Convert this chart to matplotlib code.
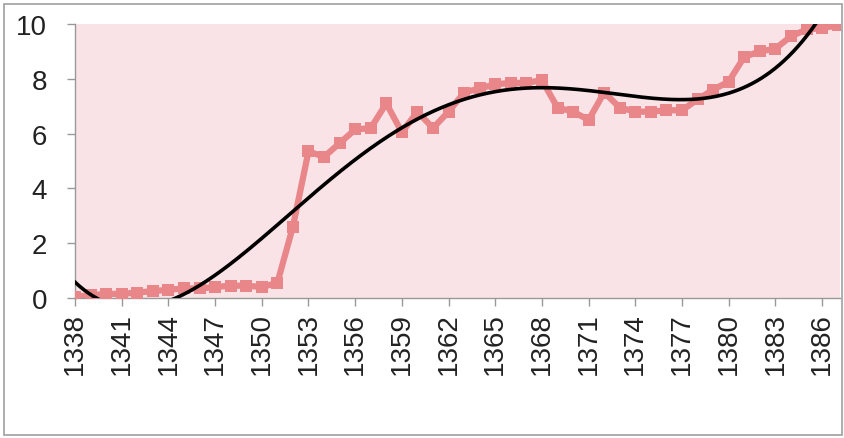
import numpy as np
import matplotlib
matplotlib.use("Agg")
import matplotlib.pyplot as plt
from matplotlib.patches import Rectangle

years = list(range(1338, 1388))
values = [0.05, 0.1, 0.15, 0.15, 0.2, 0.25, 0.3, 0.35, 0.35, 0.4, 0.45, 0.45, 0.4, 0.55,
          2.6, 5.35, 5.15, 5.65, 6.15, 6.2, 7.1, 6.05, 6.8, 6.2, 6.8, 7.5, 7.65, 7.8,
          7.85, 7.85, 7.95, 6.95, 6.8, 6.5, 7.5, 6.95, 6.8, 6.8, 6.85, 6.85, 7.25, 7.6,
          7.9, 8.8, 9.0, 9.1, 9.55, 9.8, 9.85, 9.95]
tick_years = list(range(1338, 1387, 3))
y_ticks = [0, 2, 4, 6, 8, 10]
trend_order = 4

plt.rcParams['font.family'] = ['Liberation Sans', 'DejaVu Sans']

fig = plt.figure(figsize=(8.45, 4.39), dpi=100)
fig.patch.set_facecolor('white')
fig.patches.append(Rectangle((4/845, 3/439), 838/845, 431/439, transform=fig.transFigure,
                             fill=False, edgecolor='#a0a0a0', linewidth=1.2))

ax = fig.add_axes([75/845, 1-299/439, (840-75)/845, (299-25)/439])
ax.set_facecolor('#f9e3e6')

x = np.array(years, dtype=float)
y = np.array(values)
ax.plot(x, y, color='#e8868a', linewidth=4.5, marker='s', markersize=8.5,
        markeredgewidth=0, zorder=3, solid_joinstyle='miter')

xc = x.mean()
coef = np.polyfit(x - xc, y, trend_order)
xs = np.linspace(x[0], x[-1], 500)
ax.plot(xs, np.polyval(coef, xs - xc), color='black', linewidth=2.6, zorder=4)

ax.set_xlim(1338, 1387.15)
ax.set_ylim(0, 10)
ax.set_xticks(tick_years)
ax.set_xticklabels([str(t) for t in tick_years], rotation=90)
ax.set_yticks(y_ticks)
ax.tick_params(axis='both', labelsize=20, colors='#222222', length=6, width=1,
               direction='out')
ax.tick_params(axis='x', pad=4)
ax.tick_params(axis='y', pad=14)
ax.tick_params(axis='both', color='#999999')
for s in ['top', 'right']:
    ax.spines[s].set_visible(False)
for s in ['left', 'bottom']:
    ax.spines[s].set_color('#999999')
    ax.spines[s].set_linewidth(1)

fig.savefig('out.png', dpi=100)
